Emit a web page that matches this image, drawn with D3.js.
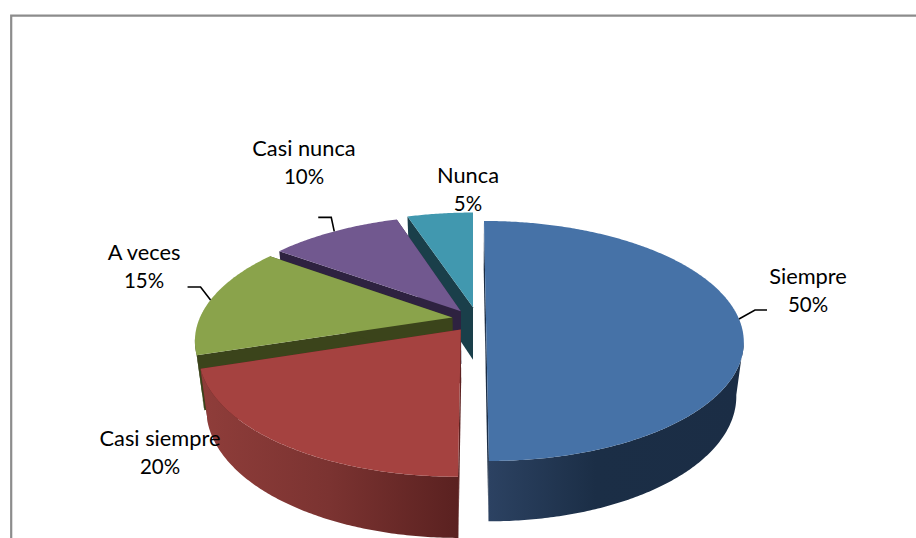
<!DOCTYPE html>
<html>
<head>
<meta charset="utf-8">
<script src="https://cdn.jsdelivr.net/npm/d3@7/dist/d3.min.js"></script>
<style>
html,body{margin:0;padding:0;background:#fff;overflow:hidden}
text{font-family:Lato,"Open Sans",sans-serif;font-size:21.8px;fill:#000;text-anchor:middle}
text .pct{font-size:20.5px}
</style>
</head>
<body>
<svg id="c" width="916" height="538"></svg>
<script>
// Data
const categories = ["Siempre", "Casi siempre", "A veces", "Casi nunca", "Nunca"];
const values = [50, 20, 15, 10, 5];
const percentLabels = ["50%", "20%", "15%", "10%", "5%"];

// Style and layout, per slice
const topColors = ["#4672A7", "#A54240", "#8AA34B", "#71588F", "#4198AF"];
const faceColors = ["#1B2D45", "#5C2221", "#3B441B", "#2E2240", "#1A3F4A"];
const wallStops = [
  [[0, "#2C4262"], [0.42, "#1B2E46"], [1, "#1B2D45"]],
  [[0, "#8F3D3A"], [0.5, "#7B3331"], [1, "#5A2120"]],
  [[0, "#3B441B"], [1, "#3B441B"]],
  [[0, "#2E2240"], [1, "#2E2240"]],
  [[0, "#1A3F4A"], [1, "#1A3F4A"]]
];
// Explosion of each slice in the pie plane (across, away from viewer)
const explodeU = [13, -12, -20.7, -12.3, 0];
const explodeV = [0, -22.5, 3.3, 17, 26];
const labelPos = [[808, 277], [160, 439], [144, 253], [304, 149], [468, 176]];
const leaders = [
  [[16, -9], [28, -9]],
  null,
  [[-10, -13], [-23, -13]],
  [[-3, -14], [-16, -14]],
  null
];
const paintOrder = [4, 3, 2, 1, 0];

// Projection of the pie plane
const R = 253, K = 0.183;
const cx = 473, cyTop = 319, cyBottom = 372;
const topPlane = {sx: 1, sy: 116 / 253, cy: cyTop};
const bottomPlane = {sx: 246 / 253, sy: 122 / 253, cy: cyBottom};

function project(plane, u, v) {
  const w = 1 + K * v / R;
  return [cx + plane.sx * u / w, plane.cy - plane.sy * v / w];
}
const pie = d3.pie().sort(null).value(d => d).startAngle(0).endAngle(2 * Math.PI);
const arcs = pie(values);

function rimPoint(plane, i, a) {
  return project(plane, R * Math.sin(a) + explodeU[i], R * Math.cos(a) + explodeV[i]);
}
function apex(plane, i) {
  return project(plane, explodeU[i], explodeV[i]);
}
function rim(plane, i, a0, a1) {
  const n = Math.max(2, Math.ceil((a1 - a0) / 0.01));
  return d3.range(n + 1).map(k => rimPoint(plane, i, a0 + (a1 - a0) * k / n));
}

const line = d3.line();
const closed = pts => line(pts) + "Z";
const svg = d3.select("#c");
const defs = svg.append("defs");

// Frame
svg.append("path").attr("d", "M916,15.6H11.2V538")
  .attr("fill", "none").attr("stroke", "#8C8C8C").attr("stroke-width", 2.2);

// Front-facing range of the rim
const visA0 = Math.acos(-K), visA1 = 2 * Math.PI - visA0;

paintOrder.forEach(i => {
  const d = arcs[i];
  const g = svg.append("g");
  // radial cut faces
  [d.startAngle, d.endAngle].forEach(a => {
    g.append("path").attr("d", closed([
      apex(topPlane, i), rimPoint(topPlane, i, a),
      rimPoint(bottomPlane, i, a), apex(bottomPlane, i)
    ])).attr("fill", faceColors[i]);
  });
  // outer wall
  const a0 = Math.max(d.startAngle, visA0), a1 = Math.min(d.endAngle, visA1);
  if (a1 > a0) {
    const t = rim(topPlane, i, a0, a1), b = rim(bottomPlane, i, a0, a1);
    const xs = t.concat(b).map(p => p[0]);
    const id = "wall" + i;
    const lg = defs.append("linearGradient").attr("id", id)
      .attr("gradientUnits", "userSpaceOnUse")
      .attr("x1", d3.min(xs)).attr("x2", d3.max(xs)).attr("y1", 0).attr("y2", 0);
    wallStops[i].forEach(s => lg.append("stop").attr("offset", s[0]).attr("stop-color", s[1]));
    g.append("path").attr("d", closed(t.concat(b.reverse()))).attr("fill", `url(#${id})`);
  }
  // top face
  g.append("path")
    .attr("d", closed([apex(topPlane, i)].concat(rim(topPlane, i, d.startAngle, d.endAngle))))
    .attr("fill", topColors[i]);
});

// Leader lines
arcs.forEach((d, i) => {
  if (!leaders[i]) return;
  const s = rimPoint(topPlane, i, (d.startAngle + d.endAngle) / 2);
  svg.append("path")
    .attr("d", line([s].concat(leaders[i].map(o => [s[0] + o[0], s[1] + o[1]]))))
    .attr("fill", "none").attr("stroke", "#000").attr("stroke-width", 1.6);
});

// Labels
categories.forEach((c, i) => {
  const t = svg.append("text").attr("x", labelPos[i][0]).attr("y", labelPos[i][1] + 7);
  t.append("tspan").attr("x", labelPos[i][0]).text(c);
  t.append("tspan").attr("class", "pct").attr("x", labelPos[i][0]).attr("dy", 27.5).text(percentLabels[i]);
});
</script>
</body>
</html>
